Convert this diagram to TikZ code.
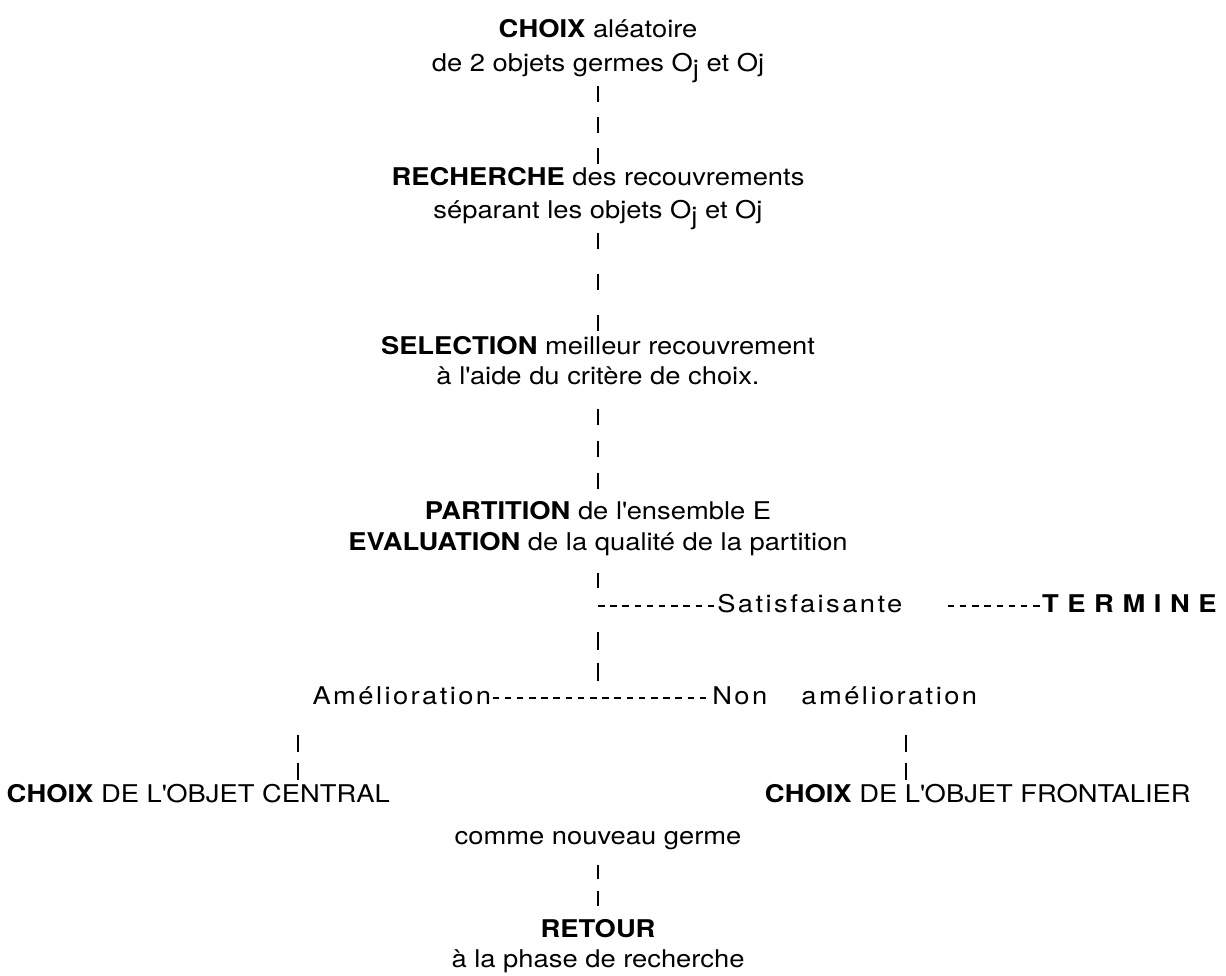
\documentclass[tikz,border=0pt]{standalone}
\usepackage{fontspec}
\setmainfont{TeX Gyre Heros}[FakeStretch=1.12]

\begin{document}
\begin{tikzpicture}[
font=\fontsize{13.9}{19.3}\selectfont,
txt/.style={inner sep=0pt,anchor=base},
spaced/.style={inner sep=0pt,anchor=base west,font=\fontsize{13.9}{19.3}\selectfont\addfontfeatures{LetterSpace=10}},
bars/.style={line width=1.5pt},
hyphens/.style={line width=1.1pt,dash pattern=on 0.13cm off 0.114cm}
]

%%%%%%%%%%%%%%%%%%%%%%%%%%%%%%%%%%%%%%%%%%%%%%%%%%%%%%%%%%%%
% PAGE
%%%%%%%%%%%%%%%%%%%%%%%%%%%%%%%%%%%%%%%%%%%%%%%%%%%%%%%%%%%%

\node[
inner sep=0pt,
minimum width=24.52cm,
minimum height=19.5cm
](frame){};
\useasboundingbox (frame.south west) rectangle (frame.north east);

%%%%%%%%%%%%%%%%%%%%%%%%%%%%%%%%%%%%%%%%%%%%%%%%%%%%%%%%%%%%
% Choix aleatoire
%%%%%%%%%%%%%%%%%%%%%%%%%%%%%%%%%%%%%%%%%%%%%%%%%%%%%%%%%%%%

\node[txt](choix1)
at ([xshift=-0.30cm,yshift=-0.76cm]frame.north)
{\textbf{CHOIX} aléatoire};

\node[txt](choix2)
at ([xshift=-0.30cm,yshift=-1.44cm]frame.north)
{de 2 objets germes O\raisebox{-0.22em}{j} et Oj};

%%%%%%%%%%%%%%%%%%%%%%%%%%%%%%%%%%%%%%%%%%%%%%%%%%%%%%%%%%%%
% Recherche
%%%%%%%%%%%%%%%%%%%%%%%%%%%%%%%%%%%%%%%%%%%%%%%%%%%%%%%%%%%%

\node[txt](rech1)
at ([xshift=-0.30cm,yshift=-3.72cm]frame.north)
{\textbf{RECHERCHE} des recouvrements};

\node[txt](rech2)
at ([xshift=-0.30cm,yshift=-4.38cm]frame.north)
{séparant les objets O\raisebox{-0.22em}{j} et Oj};

%%%%%%%%%%%%%%%%%%%%%%%%%%%%%%%%%%%%%%%%%%%%%%%%%%%%%%%%%%%%
% Selection
%%%%%%%%%%%%%%%%%%%%%%%%%%%%%%%%%%%%%%%%%%%%%%%%%%%%%%%%%%%%

\node[txt](sel1)
at ([xshift=-0.30cm,yshift=-7.10cm]frame.north)
{\textbf{SELECTION} meilleur recouvrement};

\node[txt](sel2)
at ([xshift=-0.30cm,yshift=-7.70cm]frame.north)
{à l\textquotesingle aide du critère de choix.};

%%%%%%%%%%%%%%%%%%%%%%%%%%%%%%%%%%%%%%%%%%%%%%%%%%%%%%%%%%%%
% Partition / evaluation
%%%%%%%%%%%%%%%%%%%%%%%%%%%%%%%%%%%%%%%%%%%%%%%%%%%%%%%%%%%%

\node[txt](part1)
at ([xshift=-0.30cm,yshift=-10.40cm]frame.north)
{\textbf{PARTITION} de l\textquotesingle ensemble E};

\node[txt](part2)
at ([xshift=-0.30cm,yshift=-11.02cm]frame.north)
{\textbf{EVALUATION} de la qualité de la partition};

\coordinate (split) at ([xshift=-0.30cm,yshift=-12.12cm]frame.north);

\node[spaced](satisf)
at ([xshift=2.08cm,yshift=-12.26cm]frame.north)
{Satisfaisante};

\node[txt,anchor=base west,font=\fontsize{13.9}{19.3}\selectfont\addfontfeatures{LetterSpace=4}](termine)
at ([xshift=8.58cm,yshift=-12.26cm]frame.north)
{\textbf{T E R M I N E}};

%%%%%%%%%%%%%%%%%%%%%%%%%%%%%%%%%%%%%%%%%%%%%%%%%%%%%%%%%%%%
% Amelioration / non amelioration
%%%%%%%%%%%%%%%%%%%%%%%%%%%%%%%%%%%%%%%%%%%%%%%%%%%%%%%%%%%%

\coordinate (join) at ([xshift=-0.30cm,yshift=-13.96cm]frame.north);

\node[spaced](amel)
at ([xshift=-6.02cm,yshift=-14.10cm]frame.north)
{Amélioration};

\node[spaced](nonamel)
at ([xshift=1.98cm,yshift=-14.10cm]frame.north)
{Non\hspace{1.4em}amélioration};

\node[txt](centr)
at ([xshift=-8.30cm,yshift=-16.06cm]frame.north)
{\textbf{CHOIX} DE L\textquotesingle OBJET CENTRAL};

\node[txt](front)
at ([xshift=7.30cm,yshift=-16.06cm]frame.north)
{\textbf{CHOIX} DE L\textquotesingle OBJET FRONTALIER};

\node[txt](comme)
at ([xshift=-0.30cm,yshift=-16.90cm]frame.north)
{comme nouveau germe};

%%%%%%%%%%%%%%%%%%%%%%%%%%%%%%%%%%%%%%%%%%%%%%%%%%%%%%%%%%%%
% Retour
%%%%%%%%%%%%%%%%%%%%%%%%%%%%%%%%%%%%%%%%%%%%%%%%%%%%%%%%%%%%

\node[txt](retour1)
at ([xshift=-0.30cm,yshift=-18.76cm]frame.north)
{\textbf{RETOUR}};

\node[txt](retour2)
at ([xshift=-0.30cm,yshift=-19.36cm]frame.north)
{à la phase de recherche};

%%%%%%%%%%%%%%%%%%%%%%%%%%%%%%%%%%%%%%%%%%%%%%%%%%%%%%%%%%%%
% Connectors
%%%%%%%%%%%%%%%%%%%%%%%%%%%%%%%%%%%%%%%%%%%%%%%%%%%%%%%%%%%%

\draw[bars,shorten <=0.28cm,shorten >=0.44cm,dash pattern=on 0.32cm off 0.30cm]
(choix2.base) -- (rech1.base);

\draw[bars,shorten <=0.28cm,shorten >=0.48cm,dash pattern=on 0.32cm off 0.50cm]
(rech2.base) -- (sel1.base);

\draw[bars,shorten <=0.48cm,shorten >=0.62cm,dash pattern=on 0.32cm off 0.32cm]
(sel2.base) -- (part1.base);

\draw[bars,shorten <=0.44cm,shorten >=0.36cm]
(part2.base) -- (split);

\draw[bars,shorten <=0.52cm,shorten >=0.34cm,dash pattern=on 0.36cm off 0.26cm]
(split) -- (join);

\draw[hyphens,shorten >=0.04cm]
(split) -- ([yshift=0.14cm]satisf.base west);

\draw[hyphens,shorten <=0.90cm,shorten >=0.04cm]
([yshift=0.14cm]satisf.base east) -- ([yshift=0.14cm]termine.base west);

\draw[hyphens,shorten <=0.02cm,shorten >=0.04cm]
([yshift=0.14cm]amel.base east) -- ([yshift=0.14cm]nonamel.base west);

\draw[bars,shorten <=0.60cm,shorten >=0.46cm,dash pattern=on 0.34cm off 0.22cm]
([xshift=-0.28cm]amel.base west) -- ([xshift=-0.28cm]amel.base west |- centr.base);

\draw[bars,shorten <=0.60cm,shorten >=0.46cm,dash pattern=on 0.34cm off 0.22cm]
([xshift=-1.44cm]front.base |- nonamel.base) -- ([xshift=-1.44cm]front.base);

\draw[bars,shorten <=0.40cm,shorten >=0.62cm,dash pattern=on 0.30cm off 0.24cm]
(comme.base) -- (retour1.base);

\end{tikzpicture}
\end{document}
